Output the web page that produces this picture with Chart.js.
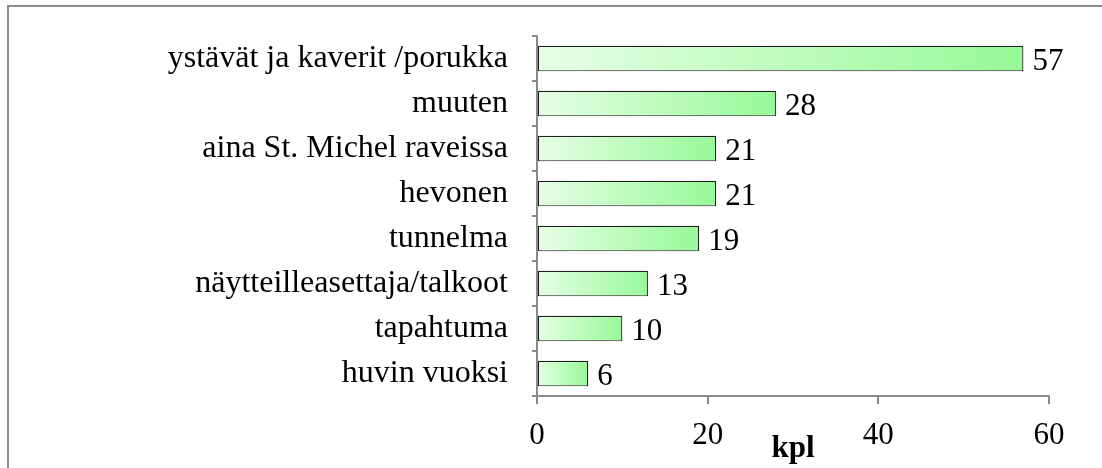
<!DOCTYPE html>
<html>
<head>
<meta charset="utf-8">
<script src="https://cdn.jsdelivr.net/npm/chart.js@4/dist/chart.umd.min.js"></script>
<style>
  html, body { margin: 0; padding: 0; background: #ffffff; }
  #wrap { position: relative; width: 1102px; height: 468px; }
</style>
</head>
<body>
<div id="wrap"><canvas id="c" width="1102" height="468"></canvas></div>
<script>
const categories = [
  'ystävät ja kaverit /porukka',
  'muuten',
  'aina St. Michel raveissa',
  'hevonen',
  'tunnelma',
  'näytteilleasettaja/talkoot',
  'tapahtuma',
  'huvin vuoksi'
];
const values = [57, 28, 21, 21, 19, 13, 10, 6];
const xTicks = [0, 20, 40, 60];
const axisTitle = 'kpl';

const FONT = '"Liberation Serif", "Times New Roman", serif';
const AXIS_GRAY = '#8a8a8a';

const framePlugin = {
  id: 'frame',
  beforeDraw(chart) {
    const ctx = chart.ctx;
    ctx.save();
    ctx.fillStyle = '#ffffff';
    ctx.fillRect(0, 0, chart.width, chart.height);
    ctx.strokeStyle = '#8c8c8c';
    ctx.lineWidth = 2;
    ctx.strokeRect(8, 6, 1400, 800);
    ctx.restore();
  }
};

const valueLabels = {
  id: 'valueLabels',
  afterDatasetsDraw(chart) {
    const ctx = chart.ctx;
    const meta = chart.getDatasetMeta(0);
    ctx.save();
    ctx.font = '31px ' + FONT;
    ctx.fillStyle = '#000000';
    ctx.textAlign = 'left';
    ctx.textBaseline = 'middle';
    meta.data.forEach((bar, i) => {
      ctx.fillText(String(chart.data.datasets[0].data[i]), bar.x + 9, bar.y + 3.5);
    });
    ctx.restore();
  }
};

function barGradient(context) {
  const chart = context.chart;
  const area = chart.chartArea;
  if (!area || context.type !== 'data') return '#c8ffc8';
  const xs = chart.scales.x;
  const x0 = xs.getPixelForValue(0);
  const x1 = xs.getPixelForValue(context.raw);
  const g = chart.ctx.createLinearGradient(x0, 0, Math.max(x1, x0 + 1), 0);
  g.addColorStop(0, '#e6ffe6');
  g.addColorStop(1, '#97f997');
  return g;
}

new Chart(document.getElementById('c'), {
  type: 'bar',
  data: {
    labels: categories,
    datasets: [{
      data: values,
      backgroundColor: barGradient,
      borderColor: '#1e1e1e',
      borderWidth: 1.2,
      borderSkipped: false,
      categoryPercentage: 1,
      barPercentage: 0.57
    }]
  },
  options: {
    indexAxis: 'y',
    responsive: false,
    devicePixelRatio: 1,
    animation: false,
    layout: { padding: { top: 36, right: 53, left: 0, bottom: 0 } },
    plugins: {
      legend: { display: false },
      tooltip: { enabled: false },
      title: { display: false }
    },
    scales: {
      x: {
        type: 'linear',
        min: 0,
        max: 60,
        afterBuildTicks(scale) { scale.ticks = xTicks.map(v => ({ value: v })); },
        afterFit(scale) { scale.height = 72; scale.paddingLeft = 0; scale.paddingRight = 0; },
        ticks: {
          color: '#000000',
          font: { family: FONT, size: 31 },
          padding: 13,
          maxRotation: 0
        },
        grid: {
          drawOnChartArea: false,
          drawTicks: true,
          tickLength: 8,
          color: AXIS_GRAY,
          lineWidth: 2
        },
        border: { display: true, color: AXIS_GRAY, width: 2 },
        title: {
          display: true,
          text: axisTitle,
          color: '#000000',
          font: { family: FONT, size: 31, weight: 'bold' },
          padding: { top: 0, bottom: 0 }
        }
      },
      y: {
        type: 'category',
        offset: true,
        afterFit(scale) { scale.width = 537; scale.paddingTop = 0; scale.paddingBottom = 0; },
        ticks: {
          color: '#000000',
          font: { family: FONT, size: 32 },
          padding: 24,
          autoSkip: false
        },
        grid: {
          offset: true,
          drawOnChartArea: false,
          drawTicks: true,
          tickLength: 5,
          color: AXIS_GRAY,
          lineWidth: 2
        },
        border: { display: true, color: AXIS_GRAY, width: 2 }
      }
    }
  },
  plugins: [framePlugin, valueLabels]
});
</script>
</body>
</html>
